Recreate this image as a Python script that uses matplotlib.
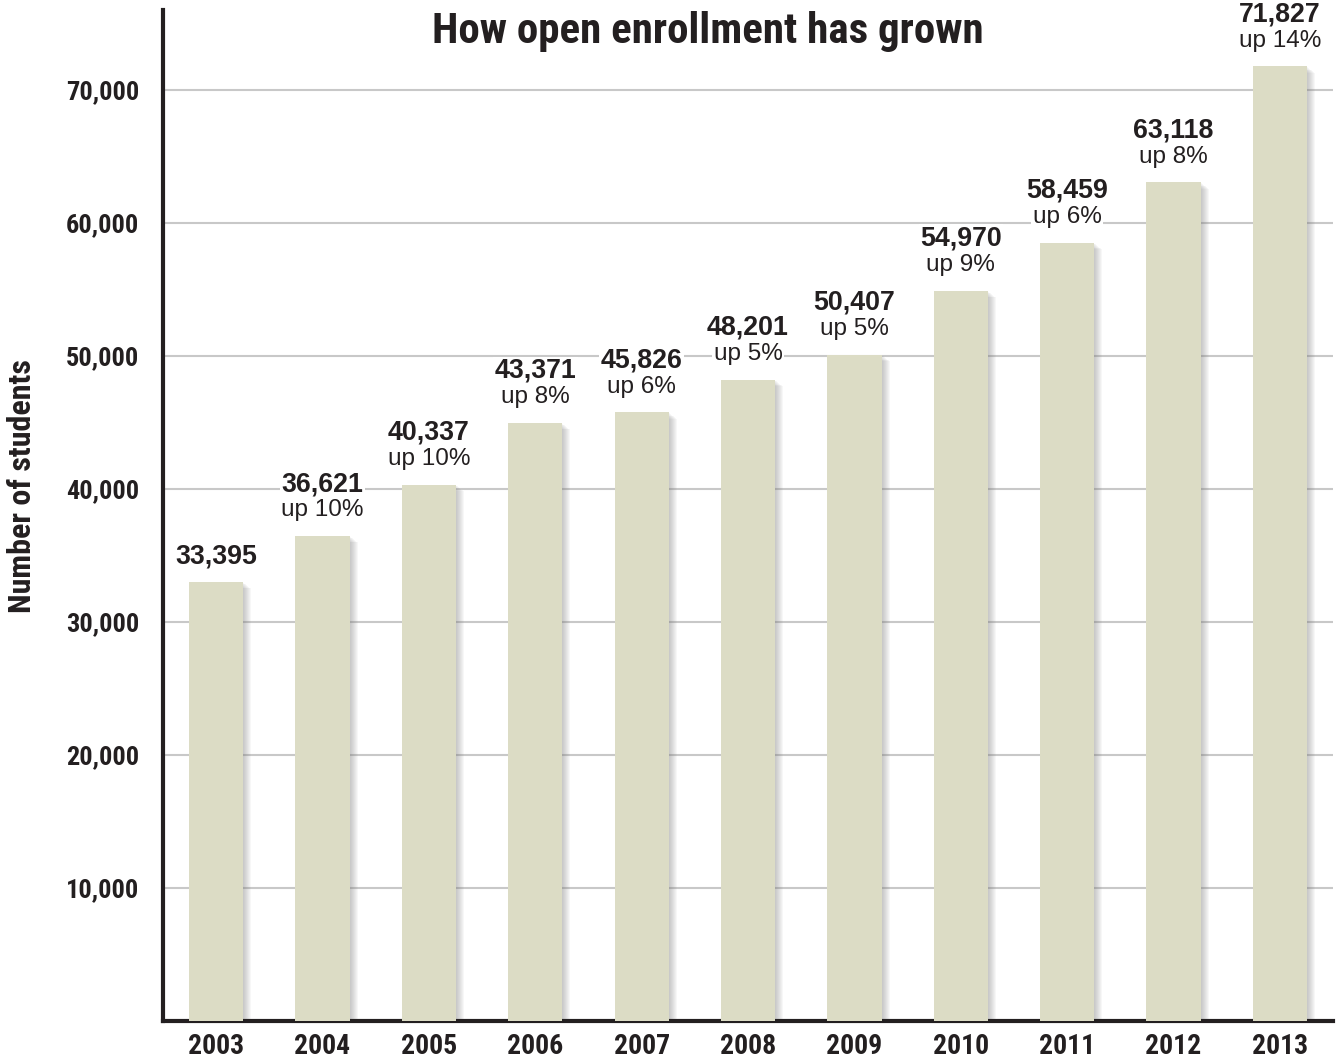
import matplotlib
matplotlib.use('Agg')
import matplotlib.pyplot as plt
from matplotlib.ticker import FixedLocator, FuncFormatter

# Údaje z grafu
roky = ['2003', '2004', '2005', '2006', '2007', '2008', '2009', '2010', '2011', '2012', '2013']
studenti = [33395, 36621, 40337, 43371, 45826, 48201, 50407, 54970, 58459, 63118, 71827]
rast = ['', 'up 10%', 'up 10%', 'up 8%', 'up 6%', 'up 5%', 'up 5%', 'up 9%', 'up 6%', 'up 8%', 'up 14%']
# výšky stĺpcov tak, ako sú nakreslené v pôvodnom grafe
vysky_stlpcov = [33000, 36450, 40300, 44950, 45750, 48200, 50080, 54880, 58500, 63030, 71750]
y_ticky = [10000, 20000, 30000, 40000, 50000, 60000, 70000]

NARROW = ['Roboto Condensed', 'IBM Plex Sans Condensed', 'Liberation Sans', 'DejaVu Sans']
REGULAR = ['Liberation Sans', 'DejaVu Sans']
TEXT = '#231f20'
FARBA_STLPCA = '#dcdcc5'

fig = plt.figure(figsize=(13.36, 10.59), dpi=100)
ax = fig.add_axes([0.122, 0.0359, 0.8758, 0.9547])

x = list(range(len(roky)))
px = 1.0 / 106.3  # jeden pixel v jednotkách osi x

# tieň vpravo od stĺpcov
for k in range(1, 9):
    ax.bar([i + k * px for i in x], [h - 60 * k for h in vysky_stlpcov], width=0.51,
           color='#7a7a7a', alpha=0.06, zorder=2, linewidth=0)

ax.bar(x, vysky_stlpcov, width=0.51, color=FARBA_STLPCA, zorder=3, linewidth=0)

# mriežka
for t in y_ticky:
    ax.axhline(t, color='#c8c8c8', linewidth=1.5, zorder=1)

# popisy nad stĺpcami
for i, (h, n, r) in enumerate(zip(vysky_stlpcov, studenti, rast)):
    if r:
        ax.annotate(r, (i, h), xytext=(0, 18.5), textcoords='offset points',
                    ha='center', va='center', fontsize=17.5, family=REGULAR,
                    color=TEXT, zorder=4,
                    bbox=dict(facecolor='white', edgecolor='none', pad=1))
        ax.annotate(f'{n:,}', (i, h), xytext=(0, 37.5), textcoords='offset points',
                    ha='center', va='center', fontsize=19.3, family=REGULAR,
                    weight='bold', color=TEXT, zorder=4,
                    bbox=dict(facecolor='white', edgecolor='none', pad=1))
    else:
        ax.annotate(f'{n:,}', (i, h), xytext=(0, 18), textcoords='offset points',
                    ha='center', va='center', fontsize=19.3, family=REGULAR,
                    weight='bold', color=TEXT, zorder=4,
                    bbox=dict(facecolor='white', edgecolor='none', pad=1))

ax.set_xlim(-0.5, 10.5)
ax.set_ylim(0, 76000)

ax.yaxis.set_major_locator(FixedLocator(y_ticky))
ax.yaxis.set_major_formatter(FuncFormatter(lambda v, p: f'{int(v):,}'))
ax.set_xticks(x)
ax.set_xticklabels(roky)
ax.tick_params(axis='y', length=0, pad=17)
ax.tick_params(axis='x', length=0, pad=9)
for lbl in ax.get_yticklabels():
    lbl.set_family(NARROW)
    lbl.set_fontsize(19)
    lbl.set_weight('bold')
    lbl.set_color(TEXT)
for lbl in ax.get_xticklabels():
    lbl.set_family(NARROW)
    lbl.set_fontsize(20)
    lbl.set_weight('bold')
    lbl.set_color(TEXT)

for s in ['top', 'right']:
    ax.spines[s].set_visible(False)
for s in ['left', 'bottom']:
    ax.spines[s].set_linewidth(3)
    ax.spines[s].set_color(TEXT)

fig.text(22 / 1336, 1 - 486 / 1059, 'Number of students', rotation=90,
         ha='center', va='center', fontsize=23, family=NARROW, weight='bold', color=TEXT)
fig.text(708 / 1336, 1 - 31 / 1059, 'How open enrollment has grown',
         ha='center', va='center', fontsize=31, family=NARROW, weight='bold', color=TEXT)

fig.savefig('out.png', dpi=100)
